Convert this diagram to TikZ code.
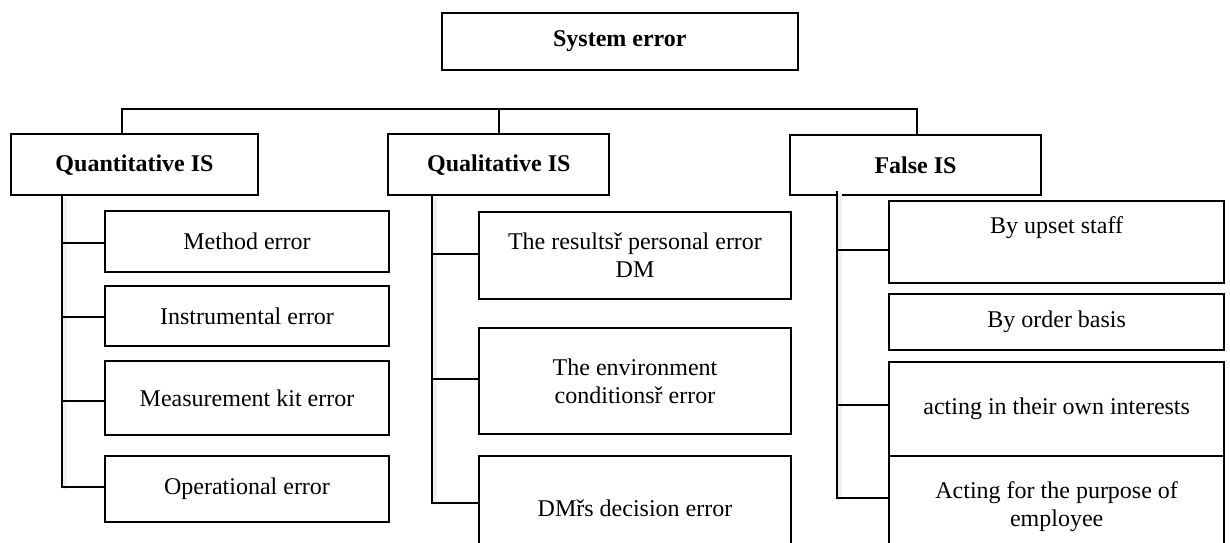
\documentclass[tikz,border=0pt]{standalone}
\usepackage{fontspec}
\setmainfont{Liberation Serif}
\usetikzlibrary{calc}

\begin{document}
\begin{tikzpicture}[x=0.5pt, y=-0.5pt,
  box/.style={draw=black, line width=1pt, rectangle, inner sep=0pt,
    align=center, font=\fontsize{12}{14}\selectfont},
  head/.style={box, font=\fontsize{12}{14}\selectfont\bfseries},
  link/.style={draw=black, line width=1pt},
  haze/.style={draw=black!6, line width=2pt}]

\useasboundingbox (0,0) rectangle (1230,542);
\clip (0,0) rectangle (1230,542);

% box from corner (left,top) to (right,bottom)
\newcommand{\boxat}[6]{%
  \node[#1, minimum width={(#5-#3)*0.5pt}, minimum height={(#6-#4)*0.5pt}]
    (#2) at ({(#3+#5)/2},{(#4+#6)/2})}

% root and the three kinds
\boxat{head}{sys}{441.7}{12.7}{798}{70} {System error};
\boxat{head}{quant}{10.7}{134.3}{258.3}{195} {Quantitative IS};
\boxat{head}{qual}{388.3}{134.3}{609.3}{195} {Qualitative IS};
\boxat{head}{false}{790}{135}{1041}{195} {False IS};

% quantitative branch
\boxat{box}{m1}{105}{211}{389}{272} {Method error};
\boxat{box}{m2}{105}{285.7}{389}{346} {Instrumental error};
\boxat{box}{m3}{105}{361}{389}{435} {Measurement kit error};
\boxat{box}{m4}{105}{456}{389}{522} {Operational error};

% qualitative branch
\boxat{box}{q1}{479.3}{211.7}{790.7}{299.3} {The resultsř personal error\\DM};
\boxat{box}{q2}{479.3}{327.7}{790.7}{434.3} {The environment\\conditionsř error};
\boxat{box}{q3}{479.3}{456}{790.7}{560} {DMřs decision error};

% false branch
\boxat{box}{f1}{889}{201}{1224.3}{282.7} {};
\node[font=\fontsize{12}{14}\selectfont] (f1t) at (f1.north |- 0,228) {By upset staff};
\boxat{box}{f2}{889}{294}{1224.3}{350} {By order basis};
\boxat{box}{f3}{889}{361.7}{1224.3}{456} {acting in their own interests};
\boxat{box}{f4}{889}{456}{1224.3}{557} {Acting for the purpose of\\employee};

% horizontal bar joining the three kinds
\coordinate (bl) at (122,108.7);
\coordinate (bm) at (498.7,108.7);
\coordinate (br) at (916.7,108.7);
\draw[link] (quant.north -| bl) -- (bl) -- (br) -- (false.north -| br);
\draw[link] (bm) -- (qual.north -| bm);

% trunks
\coordinate (qt) at (62.3,0);
\coordinate (lt) at (431.7,0);
\coordinate (ft) at (837.3,0);

\draw[haze] ($(quant.south -| qt)+(3,2)$) -- ($(qt |- 0,486.7)+(3,2)$);
\draw[haze] ($(qual.south -| lt)+(3,2)$) -- ($(lt |- 0,502.7)+(3,2)$);
\draw[haze] ($(ft |- 0,191)+(3,2)$) -- ($(ft |- 0,497.7)+(3,2)$);

\draw[link] (quant.south -| qt) -- (qt |- 0,486.7) -- (m4.west |- 0,486.7);
\draw[link] (qt |- 0,243.3) -- (m1.west |- 0,243.3);
\draw[link] (qt |- 0,317.3) -- (m2.west |- 0,317.3);
\draw[link] (qt |- 0,400.7) -- (m3.west |- 0,400.7);

\draw[link] (qual.south -| lt) -- (lt |- 0,502.7) -- (q3.west |- 0,502.7);
\draw[link] (lt |- 0,254) -- (q1.west |- 0,254);
\draw[link] (lt |- 0,379) -- (q2.west |- 0,379);

\draw[link] (ft |- 0,191) -- (ft |- 0,497.7) -- (f4.west |- 0,497.7);
\draw[link] (ft |- 0,250) -- (f1.west |- 0,250);
\draw[link] (ft |- 0,405) -- (f3.west |- 0,405);

\end{tikzpicture}
\end{document}
